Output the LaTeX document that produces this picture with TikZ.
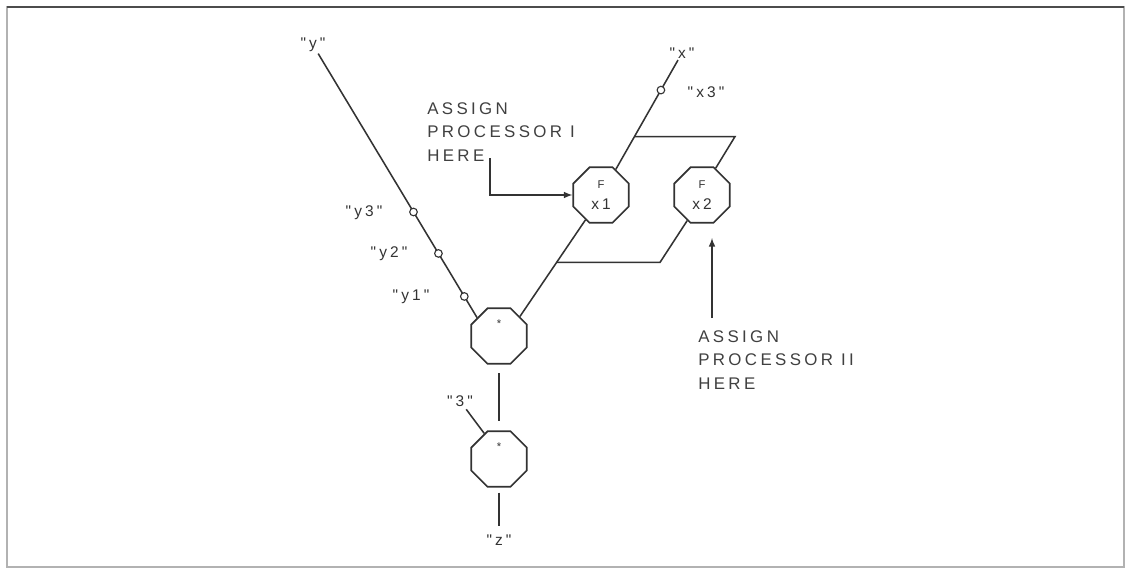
\documentclass[tikz,border=0pt]{standalone}
\usepackage{fontspec}
\newfontfamily\lettering[LetterSpace=20]{Liberation Sans}
\usetikzlibrary{shapes.geometric, arrows, positioning}
\tikzstyle{octagon} = [regular polygon, regular polygon sides=8, minimum size=1.5cm, inner sep=0pt, draw=black!80, line width=1.2pt, text=black!80, font=\lettering\fontsize{11}{15}\selectfont, align=center]
\tikzstyle{tap} = [circle, minimum size=0.19cm, inner sep=0pt, draw=black!80, line width=0.8pt, fill=white]
\tikzstyle{tag} = [text=black!80, font=\lettering\fontsize{11}{13}\selectfont, inner sep=1pt]
\tikzstyle{note} = [text=black!75, font=\lettering\fontsize{12}{17}\selectfont, align=left, inner sep=0pt, anchor=north west]
\tikzstyle{wire} = [draw=black!80, line width=1.1pt]
\tikzstyle{arrow} = [wire,->,>=latex]

\begin{document}
\begin{tikzpicture}[x=0.025cm, y=-0.025cm]
\useasboundingbox (0,0) rectangle (1130,573);
\draw [gray!60, line width=1pt] (7,7) rectangle (1124,567);
\draw [black!70, line width=1.5pt] (7,7) -- (1124,7);

% operators
\node (mulA) [octagon] at (499,336) {};
\node (starA) [tag, font=\lettering\fontsize{8}{8}\selectfont] at (499,324) {*};
\node (mulB) [octagon] at (499,459) {};
\node (starB) [tag, font=\lettering\fontsize{8}{8}\selectfont] at (499,447) {*};
\node (fx1) [octagon] at (601,195) {{\fontsize{8}{9}\selectfont F}\\x1};
\node (fx2) [octagon] at (702,195) {{\fontsize{8}{9}\selectfont F}\\x2};

% names
\node (ylab) [tag] at (313,45) {"y"};
\node (xlab) [tag] at (682,53) {"x"};
\node (x3lab) [tag] at (706,92) {"x3"};
\node (y3lab) [tag] at (364,213) {"y3"};
\node (y2lab) [tag] at (389,254) {"y2"};
\node (y1lab) [tag] at (411,297) {"y1"};
\node (threelab) [tag] at (460,401) {"3"};
\node (zlab) [tag] at (499,540) {"z"};

% notes
\node (noteI) [note] at (427,102) {ASSIGN\\PROCESSOR I\\HERE};
\node (noteII) [note] at (698,330) {ASSIGN\\PROCESSOR II\\HERE};
\coordinate (tailI) at (490,158);
\coordinate (tailII) at (712,318);
\coordinate (headII) at (712,238);
\coordinate (cornerX) at (735,0);
\coordinate (cornerM) at (660,0);

% connectors
\draw [wire] (ylab) -- node[tap, pos=0.6] (y3) {} node[tap, pos=0.757] (y2) {} node[tap, pos=0.92] (y1) {} (mulA.140);
\draw [wire] (fx1.60) -- coordinate[pos=0.3] (splitX) node[tap, pos=0.725] (x3) {} (xlab);
\draw [wire] (splitX) -- (splitX -| cornerX) -- (fx2.63);
\draw [wire] (mulA.43) -- coordinate[pos=0.56] (splitM) (fx1.238);
\draw [wire] (splitM) -- (splitM -| cornerM) -- (fx2.240);
\draw [wire, shorten <=6pt, shorten >=6.5pt] (mulA) -- (mulB);
\draw [wire, shorten <=1pt] (threelab) -- (mulB.120);
\draw [wire, shorten <=3.5pt, shorten >=5pt] (mulB) -- (zlab);
\draw [arrow] (tailI) |- (fx1);
\draw [arrow] (tailII) -- (headII);

\end{tikzpicture}
\end{document}
